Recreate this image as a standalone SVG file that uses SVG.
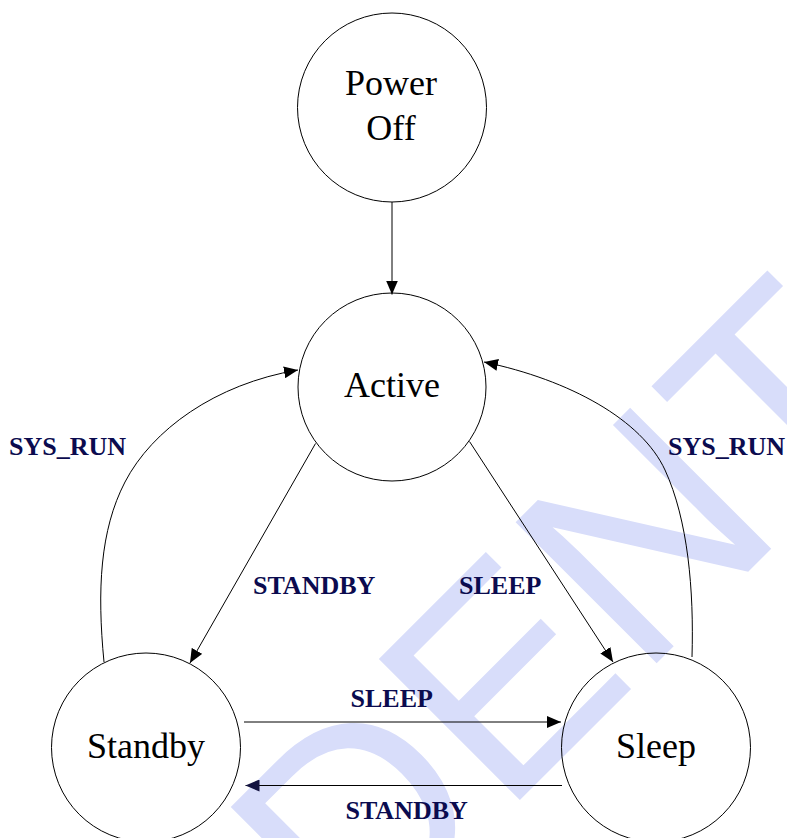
<svg xmlns="http://www.w3.org/2000/svg" width="787" height="838" viewBox="0 0 787 838">
<style>
.wm{font-family:"Liberation Sans",Arial,sans-serif;font-size:290px;fill:#D8DDFA}
.node{fill:none;stroke:#000;stroke-width:1}
.nt{font-family:"Liberation Serif","Times New Roman",serif;font-size:36px;fill:#000;text-anchor:middle}
.edge{fill:none;stroke:#000;stroke-width:1}
.lbl{font-family:"Liberation Serif","Times New Roman",serif;font-size:26px;font-weight:bold;fill:#0B0B4F}
</style>
<defs>
<marker id="ah" markerUnits="userSpaceOnUse" markerWidth="14" markerHeight="12" refX="14" refY="6" orient="auto">
<path d="M0,0 L14,6 L0,12 z" fill="#000"/>
</marker>
<marker id="ahn" markerUnits="userSpaceOnUse" markerWidth="14" markerHeight="12" refX="14" refY="6" orient="auto">
<path d="M0,0 L14,6 L0,12 z" fill="#141440"/>
</marker>
</defs>
<rect width="787" height="838" fill="#fff"/>
<g id="watermark">
<text class="wm" transform="translate(355,965) rotate(-45)">DENT</text>
</g>
<g id="connectors">
<line class="edge" x1="392" y1="202" x2="392" y2="294.5" marker-end="url(#ah)"/>
<line class="edge" x1="315.5" y1="443.5" x2="190" y2="663" marker-end="url(#ah)"/>
<line class="edge" x1="469.5" y1="441.5" x2="613" y2="662" marker-end="url(#ah)"/>
<path class="edge" d="M104,662 C97,590 100,530 125,482 C152,430 215,384 298,370" marker-end="url(#ah)"/>
<path class="edge" d="M692,657 C694,590 688,520 665,470 C642,420 570,380 484,362" marker-end="url(#ah)"/>
<line class="edge" x1="244" y1="722" x2="561" y2="722" marker-end="url(#ah)"/>
<line class="edge" x1="562" y1="785.5" x2="245.5" y2="785.5" marker-end="url(#ahn)"/>
<text class="lbl" x="9" y="455">SYS_RUN</text>
<text class="lbl" x="668" y="455">SYS_RUN</text>
<text class="lbl" x="253" y="594">STANDBY</text>
<text class="lbl" x="459" y="594">SLEEP</text>
<text class="lbl" x="350.5" y="706.5">SLEEP</text>
<text class="lbl" x="345.5" y="819">STANDBY</text>
</g>
<g id="power-off">
<circle class="node" cx="392" cy="107.5" r="94.5"/>
<text class="nt" x="391" y="95">Power</text>
<text class="nt" x="391" y="140">Off</text>
</g>
<g id="active">
<circle class="node" cx="392" cy="387" r="94"/>
<text class="nt" x="392" y="397">Active</text>
</g>
<g id="standby">
<circle class="node" cx="146" cy="747.5" r="94.5"/>
<text class="nt" x="146" y="758">Standby</text>
</g>
<g id="sleep">
<circle class="node" cx="656" cy="747.5" r="94.5"/>
<text class="nt" x="656" y="758">Sleep</text>
</g>
</svg>
